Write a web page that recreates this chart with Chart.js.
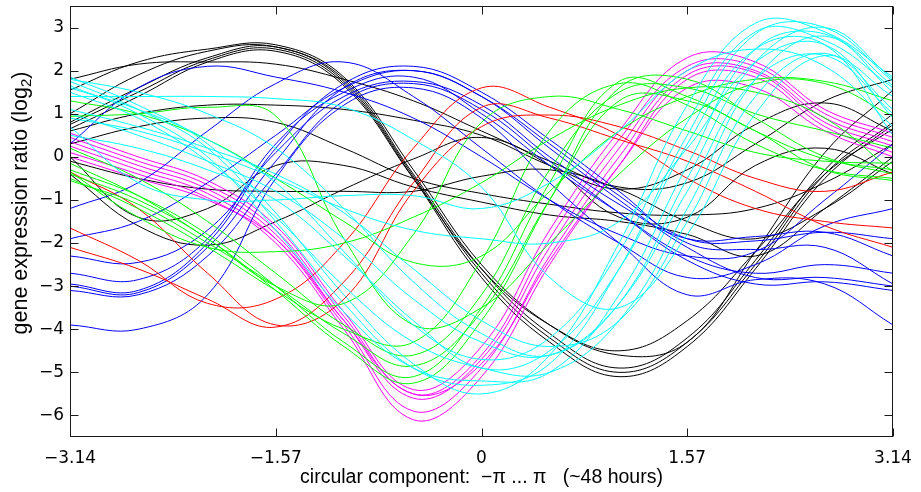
<!DOCTYPE html>
<html><head><meta charset="utf-8">
<script src="https://cdn.jsdelivr.net/npm/chart.js@4/dist/chart.umd.min.js"></script>
<style>html,body{margin:0;padding:0;background:#fff}#wrap{width:921px;height:492px}</style>
</head><body><div id="wrap"><canvas id="c" width="921" height="492"></canvas></div>
<script>
// ---- data ----
const xs = [-3.14, -2.62, -2.09, -1.57, -1.05, -0.52, 0, 0.52, 1.05, 1.57, 2.09, 2.62, 3.14];
const xTickValues = [-3.14, -1.57, 0, 1.57, 3.14];
const yTickValues = [-6, -5, -4, -3, -2, -1, 0, 1, 2, 3];

const cyan1  = [1.85, 1.2, 0.3, -1.3, -3.2, -4.8, -5.5, -4.6, -2.0, 1.2, 3.1, 2.9, 1.85];
const cyan2  = [1.75, 1.1, 0.2, -1.5, -3.4, -4.9, -5.3, -4.8, -2.6, 0.5, 2.85, 3.0, 1.75];
const cyan3  = [1.65, 1.0, 0.0, -1.7, -3.6, -4.9, -5.2, -5.0, -3.2, -0.2, 2.5, 2.85, 1.65];
const cyan4  = [1.5, 0.9, -0.1, -1.4, -3.0, -4.3, -4.9, -5.0, -3.8, -1.2, 1.8, 2.8, 1.5];
const cyan5  = [1.4, 1.4, 1.4, 1.35, 1.15, 0.4, -0.7, -2.8, -3.5, -1.8, 1.0, 2.35, 1.4];
const cyan6  = [1.1, 0.7, 0.2, -0.4, -1.3, -2.6, -3.8, -4.4, -3.8, -1.5, 1.4, 2.4, 1.1];
const cyan7  = [1.0, 0.5, -0.1, -0.8, -1.9, -3.3, -4.3, -4.6, -3.4, -0.8, 1.8, 2.35, 1.0];
const cyan8  = [0.5, 0.2, -0.3, -1.0, -2.3, -3.8, -4.9, -4.5, -2.6, 0.3, 2.5, 2.6, 0.5];
const cyan9  = [0.7, -0.6, -1.0, -1.0, -0.9, -0.9, -1.2, -0.6, 0.6, 2.0, 2.5, 2.1, 0.7];
const cyan10 = [0.9, 0.6, 0.1, -0.5, -1.2, -1.7, -1.9, -2.0, -1.5, 0.2, 2.2, 2.6, 0.9];
const cyan11 = [1.8, 1.5, 1.0, 0.2, -1.2, -2.9, -4.1, -4.6, -3.4, -0.5, 2.2, 3.0, 1.8];
const cyan12 = [1.6, 1.1, 0.4, -0.6, -2.2, -3.9, -4.7, -4.2, -2.2, 0.8, 2.9, 2.7, 1.6];

const green1 = [-0.4, -1.0, -1.9, -3.1, -4.4, -5.25, -3.8, -1.0, 1.6, 1.8, 0.9, 0.0, -0.4];
const green2 = [-0.3, -0.9, -1.8, -3.0, -4.3, -5.1, -3.5, -0.6, 1.75, 1.4, 0.6, -0.05, -0.3];
const green3 = [-0.55, -1.1, -2.0, -3.0, -4.1, -4.85, -3.6, -1.0, 1.3, 1.3, 0.6, -0.3, -0.55];
const green4 = [0.94, 1.0, 1.15, 0.95, -1.9, -3.9, -3.5, -2.0, -0.4, 0.9, 1.7, 1.7, 0.94];
const green5 = [-0.35, -1.4, -2.1, -2.2, -2.0, -1.4, -0.6, 0.4, 1.2, 1.6, 1.5, 0.9, -0.35];
const green6 = [1.3, 1.0, 0.4, -0.5, -1.5, -2.45, -2.3, -0.8, 0.6, 1.4, 1.8, 1.75, 1.3];
const green7 = [-0.15, -0.9, -1.9, -3.0, -3.4, -1.8, 0.8, 1.4, 1.1, 0.6, 0.1, -0.1, -0.15];
const green8 = [-0.5, -1.2, -2.1, -3.1, -4.0, -4.3, -2.4, 0.6, 1.7, 1.2, 0.3, -0.3, -0.5];
const green9 = [0.2, -0.5, -1.5, -2.7, -3.9, -4.6, -3.2, -0.3, 1.5, 1.6, 1.0, 0.6, 0.2];

const red1 = [-1.65, -2.4, -3.4, -3.3, -2.0, 0.2, 1.6, 1.15, 0.5, -0.5, -1.2, -1.5, -1.65];
const red2 = [-2.1, -2.6, -3.3, -3.95, -2.9, -0.6, 1.15, 0.9, 0.4, -0.1, -0.8, -1.6, -2.1];
const red3 = [-0.35, -1.2, -2.7, -3.9, -3.3, -0.8, 0.7, 0.97, 0.7, 0.15, -0.5, -0.8, -0.35];

const blue1 = [-1.2, -0.6, 0.6, 1.7, 2.2, 1.4, 0.2, -1.0, -2.0, -2.8, -2.5, -1.6, -1.2];
const blue2 = [-1.9, -1.5, -0.6, 0.5, 1.6, 2.0, 1.4, 0.3, -0.9, -1.9, -1.95, -1.75, -1.9];
const blue3 = [-2.7, -2.85, -1.9, 0.3, 1.5, 1.85, 1.0, -0.2, -1.3, -2.3, -2.7, -2.5, -2.7];
const blue4 = [-3.0, -3.15, -2.1, -0.1, 1.6, 2.0, 1.4, 0.2, -1.0, -2.1, -2.8, -2.8, -3.0];
const blue5 = [-3.1, -3.2, -2.3, -0.4, 1.3, 1.7, 1.1, -0.1, -1.3, -2.4, -2.95, -2.9, -3.1];
const blue6 = [-3.9, -4.0, -3.2, -0.5, 1.2, 1.6, 0.9, -0.6, -2.0, -3.2, -2.85, -2.95, -3.9];
const blue7 = [0.3, 1.6, 2.1, 1.85, 1.5, 0.9, 0.0, -1.0, -1.8, -2.3, -2.2, -1.0, 0.3];
const blue8 = [-2.3, -2.45, -1.7, 0.1, 1.4, 1.75, 1.2, 0.0, -1.1, -1.9, -1.85, -1.75, -2.3];
const blue9 = [-2.95, -3.1, -2.0, 0.2, 1.7, 2.1, 1.5, 0.4, -0.8, -2.0, -2.15, -2.1, -2.95];

const magenta1 = [0.55, 0.0, -0.55, -1.6, -3.6, -5.4, -4.4, -1.7, 0.6, 2.3, 2.2, 1.1, 0.55];
const magenta2 = [0.45, -0.1, -0.65, -1.7, -3.7, -5.5, -4.6, -1.9, 0.4, 2.1, 2.1, 1.0, 0.45];
const magenta3 = [0.35, -0.2, -0.75, -1.8, -3.8, -5.6, -4.7, -2.1, 0.2, 2.0, 2.0, 0.9, 0.35];
const magenta4 = [0.25, -0.3, -0.85, -1.9, -3.9, -5.9, -4.9, -2.3, 0.0, 1.9, 1.95, 0.8, 0.25];
const magenta5 = [0.1, -0.4, -0.95, -2.0, -4.0, -6.1, -5.1, -2.5, -0.2, 1.8, 1.85, 0.7, 0.1];
const magenta6 = [0.0, -0.5, -1.0, -1.9, -3.8, -5.5, -4.8, -2.4, -0.2, 1.6, 1.6, 0.6, 0.0];

const black1  = [1.55, 2.2, 2.5, 2.6, 1.85, -0.3, -2.5, -3.9, -4.6, -4.3, -2.2, 0.1, 1.55];
const black2  = [1.0, 1.9, 2.45, 2.55, 1.8, -0.4, -2.6, -4.1, -4.9, -4.2, -2.4, -0.3, 1.0];
const black3  = [0.8, 1.6, 2.3, 2.55, 1.75, -0.45, -2.7, -4.2, -5.0, -4.3, -2.5, -0.4, 0.8];
const black4  = [0.75, 1.5, 2.25, 2.5, 1.7, -0.5, -2.8, -4.3, -5.1, -4.4, -2.6, -0.5, 0.75];
const black5  = [0.65, 1.4, 2.2, 2.45, 1.65, -0.5, -2.6, -3.9, -4.5, -3.8, -2.2, -0.4, 0.65];
const black6  = [1.8, 2.15, 2.2, 2.15, 1.8, 1.3, 0.6, -0.1, -0.7, -0.6, 0.3, 1.3, 1.8];
const black7  = [0.6, 1.0, 1.2, 1.2, 1.1, 0.85, 0.5, -0.2, -0.75, -0.3, 0.75, 1.25, 0.6];
const black8  = [-0.4, -1.6, -2.05, -1.5, -0.75, -0.05, 0.45, -0.2, -1.4, -1.4, -0.2, 0.2, -0.4];
const black9  = [0.0, -1.4, -1.2, -0.2, -0.2, -0.7, -1.05, -1.35, -1.5, -1.8, -2.3, -1.2, 0.0];
const black10 = [-0.1, -0.5, -0.75, -0.8, -0.8, -0.8, -0.45, -0.3, -0.75, -1.5, -1.9, -1.2, -0.1];
const black11 = [0.3, 0.7, 0.9, 0.8, 0.2, -0.5, -0.85, -1.1, -1.3, -1.35, -1.2, -0.6, 0.3];

const groups = [
  { color: '#00ffff', series: [cyan1, cyan2, cyan3, cyan4, cyan5, cyan6, cyan7, cyan8, cyan9, cyan10, cyan11, cyan12] },
  { color: '#00ff00', series: [green1, green2, green3, green4, green5, green6, green7, green8, green9] },
  { color: '#ff0000', series: [red1, red2, red3] },
  { color: '#0000ff', series: [blue1, blue2, blue3, blue4, blue5, blue6, blue7, blue8, blue9] },
  { color: '#ff00ff', series: [magenta1, magenta2, magenta3, magenta4, magenta5, magenta6] },
  { color: '#000000', series: [black1, black2, black3, black4, black5, black6, black7, black8, black9, black10, black11] }
];

// ---- chart ----
const FONT = '"Liberation Sans", Arial, Helvetica, sans-serif';
const TICKFONT = '"DejaVu Sans", "Liberation Sans", sans-serif';
Chart.defaults.font.family = FONT;
const fmt = v => (v < 0 ? '\u2212' + String(Math.abs(v)) : String(v));

const datasets = [];
groups.forEach(g => g.series.forEach(s => datasets.push({
  data: s.map((v, i) => ({ x: xs[i], y: v })),
  borderColor: g.color, borderWidth: 1, pointRadius: 0, tension: 0.4, fill: false
})));

const frame = {
  id: 'frame',
  afterDraw(chart) {
    const { ctx, chartArea: a, scales } = chart;
    ctx.save();
    ctx.strokeStyle = '#1a1a1a';
    ctx.lineWidth = 1;
    const L = Math.round(a.left) + 0.5, R = Math.round(a.right) - 0.5;
    const T = Math.round(a.top) + 0.5, B = Math.round(a.bottom) - 0.5;
    ctx.strokeRect(L, T, R - L, B - T);
    const tl = 8;
    ctx.beginPath();
    xTickValues.forEach(v => {
      const px = Math.round(scales.x.getPixelForValue(v)) + 0.5;
      ctx.moveTo(px, B); ctx.lineTo(px, B - tl);
      ctx.moveTo(px, T); ctx.lineTo(px, T + tl);
    });
    yTickValues.forEach(v => {
      const py = Math.round(scales.y.getPixelForValue(v)) + 0.5;
      ctx.moveTo(L, py); ctx.lineTo(L + tl, py);
      ctx.moveTo(R, py); ctx.lineTo(R - tl, py);
    });
    ctx.stroke();
    // axis titles
    ctx.fillStyle = '#000';
    ctx.font = '19.5px ' + FONT;
    ctx.textAlign = 'center';
    ctx.textBaseline = 'middle';
    ctx.fillText('circular component:  \u2212\u03c0 ... \u03c0   (~48 hours)', (a.left + a.right) / 2, 478);
    // y title with subscript
    ctx.save();
    ctx.translate(21, 203);
    ctx.rotate(-Math.PI / 2);
    const f1 = '21.5px ' + FONT, f2 = '15px ' + FONT;
    ctx.font = f1; const t1 = 'gene expression ratio (log'; const w1 = ctx.measureText(t1).width;
    ctx.font = f2; const w2 = ctx.measureText('2').width;
    ctx.font = f1; const w3 = ctx.measureText(')').width;
    const x0 = -(w1 + w2 + w3) / 2;
    ctx.textAlign = 'left';
    ctx.font = f1; ctx.fillText(t1, x0, 0);
    ctx.font = f2; ctx.fillText('2', x0 + w1, 6);
    ctx.font = f1; ctx.fillText(')', x0 + w1 + w2, 0);
    ctx.restore();
    ctx.restore();
  }
};

new Chart(document.getElementById('c'), {
  type: 'line',
  data: { datasets },
  options: {
    responsive: false, animation: false, devicePixelRatio: 1,
    layout: { padding: { left: 0, right: 28, top: 6, bottom: 0 } },
    plugins: { legend: { display: false }, tooltip: { enabled: false } },
    scales: {
      x: {
        type: 'linear', min: -3.14, max: 3.14,
        afterBuildTicks: s => { s.ticks = xTickValues.map(v => ({ value: v })); },
        grid: { display: false, drawTicks: false }, border: { display: false },
        ticks: { padding: 11, autoSkip: false, maxRotation: 0, color: '#000', font: { family: TICKFONT, size: 17 }, callback: v => fmt(v) },
        afterFit: s => { s.height = 55; s.paddingLeft = 0; s.paddingRight = 0; }
      },
      y: {
        type: 'linear', min: -6.5, max: 3.5,
        afterBuildTicks: s => { s.ticks = yTickValues.map(v => ({ value: v })); },
        grid: { display: false, drawTicks: false }, border: { display: false },
        ticks: { padding: 6, autoSkip: false, color: '#000', font: { family: TICKFONT, size: 17 }, callback: v => fmt(v) },
        afterFit: s => { s.width = 70; s.paddingTop = 0; s.paddingBottom = 0; }
      }
    }
  },
  plugins: [frame]
});
</script>
</body></html>
